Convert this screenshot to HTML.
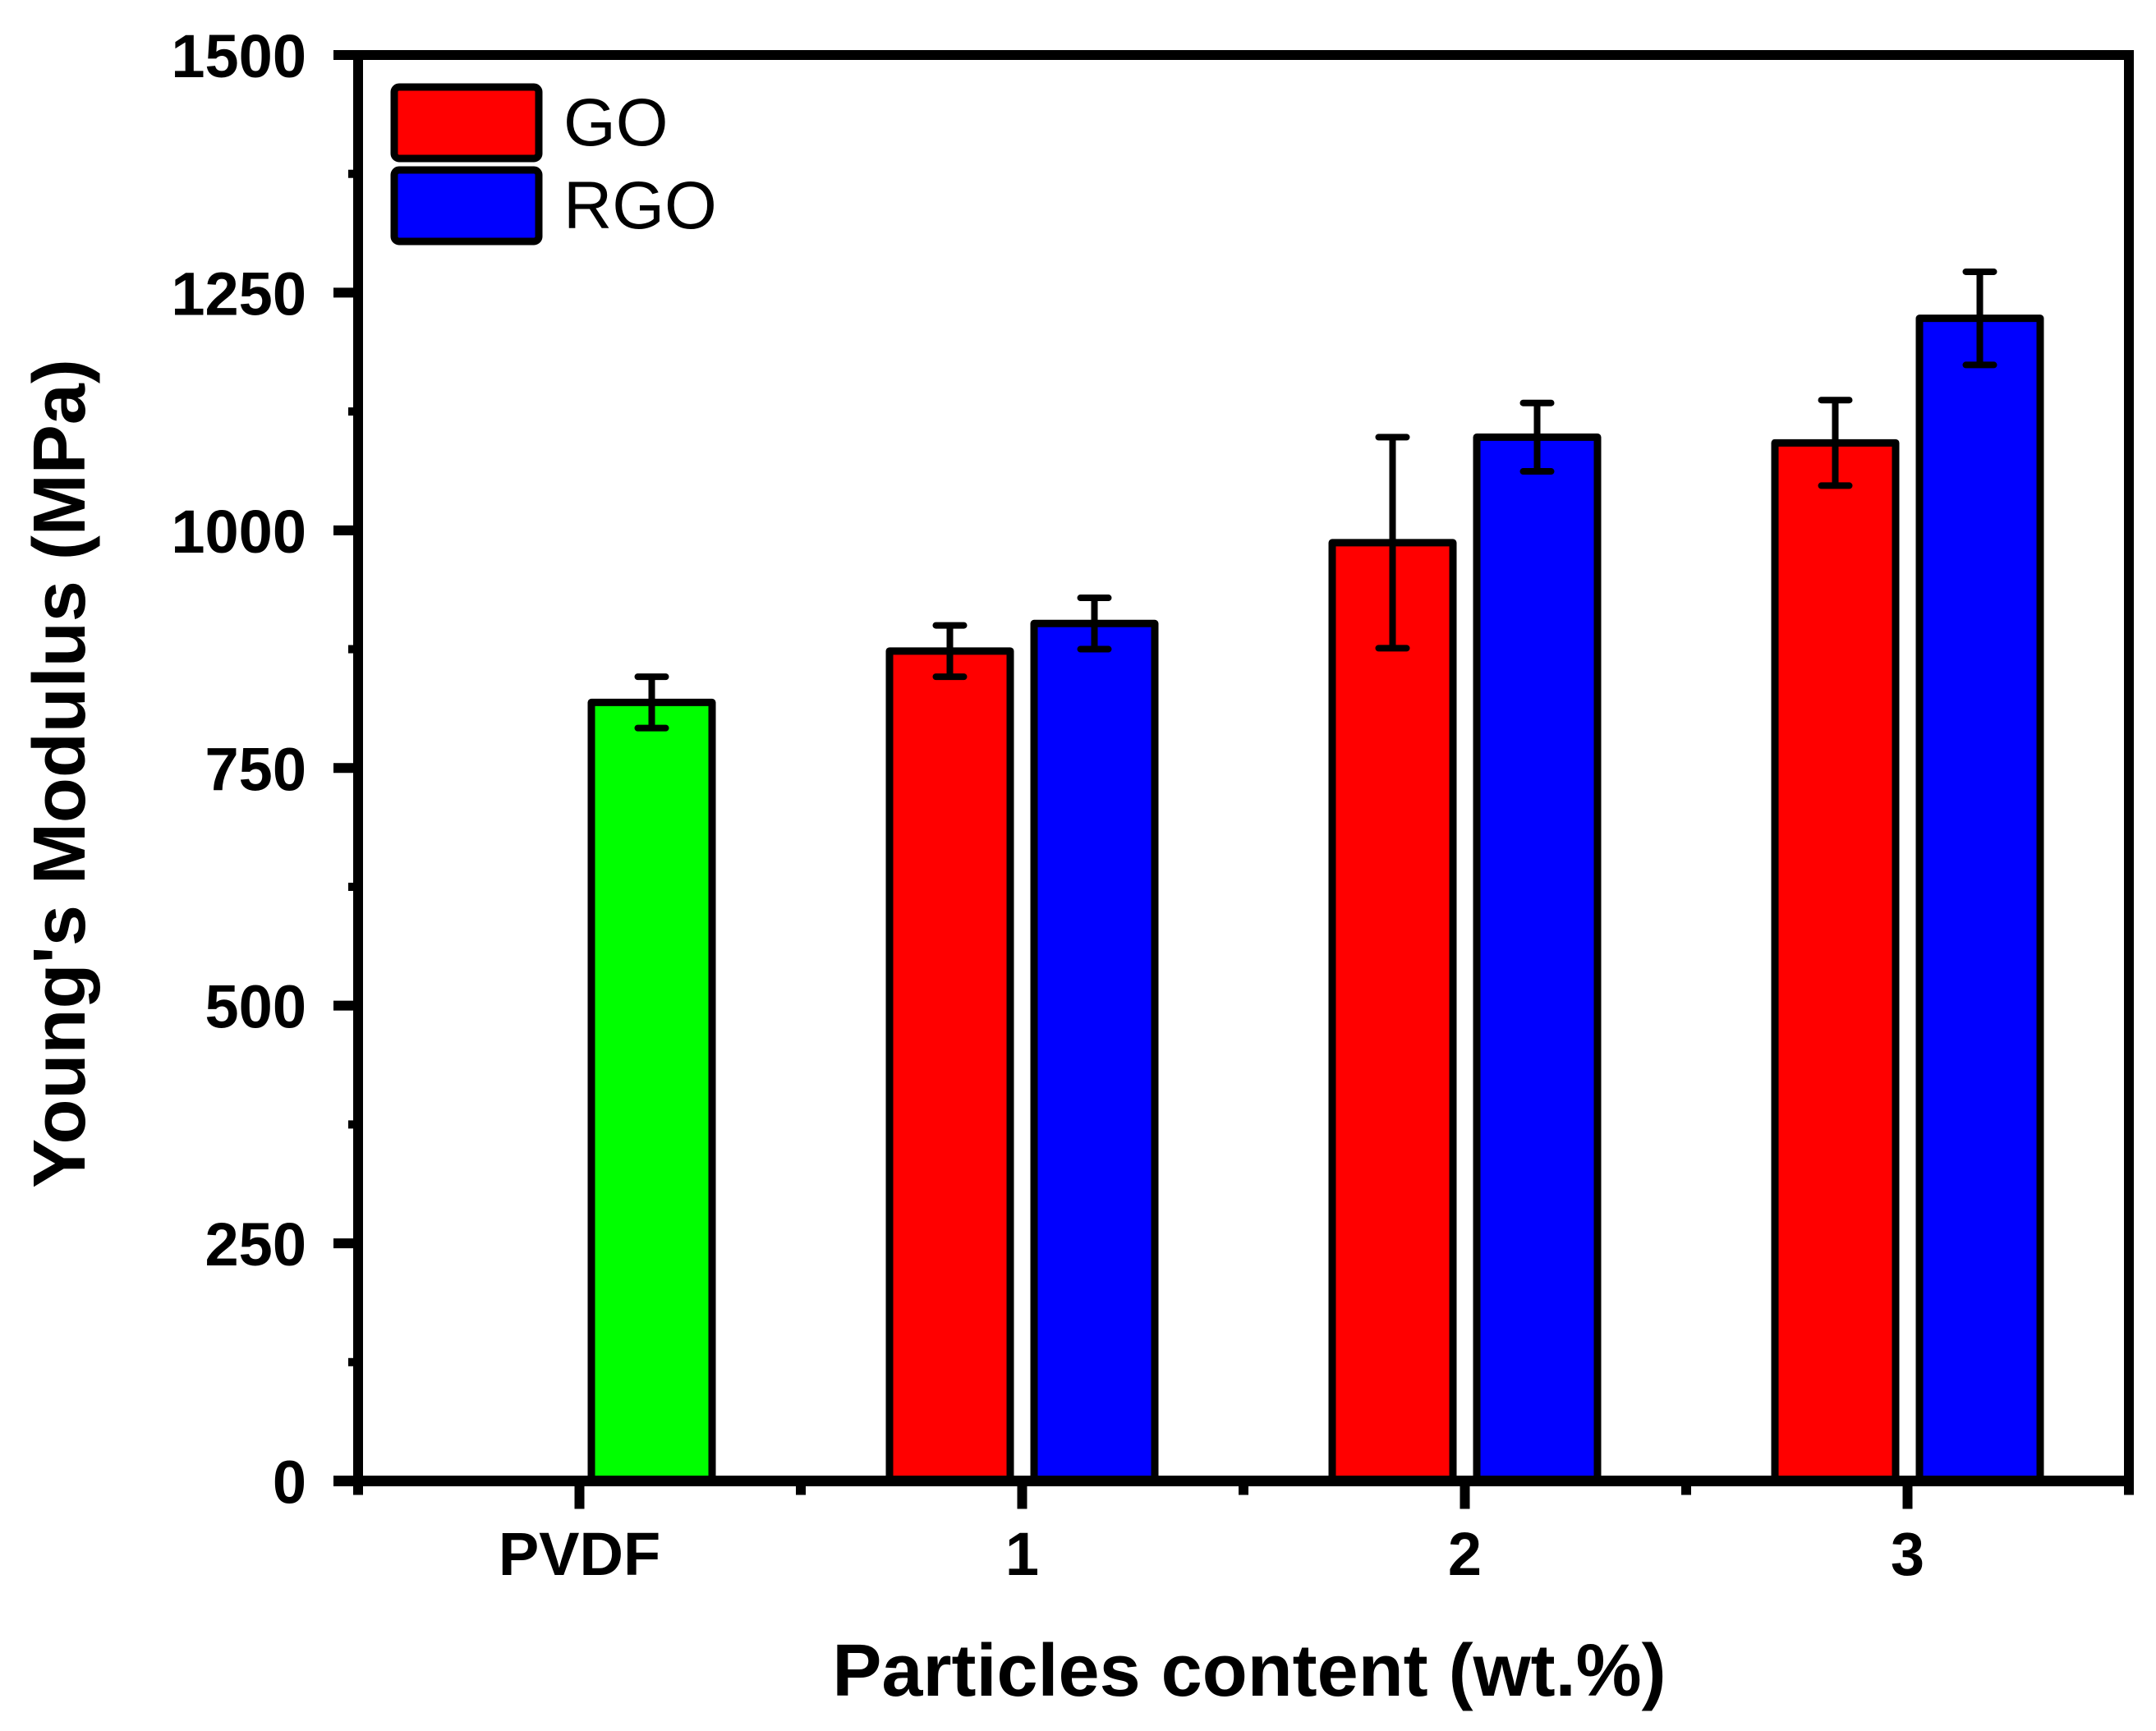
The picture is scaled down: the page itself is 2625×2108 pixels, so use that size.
<!DOCTYPE html>
<html><head><meta charset="utf-8"><style>
html,body{margin:0;padding:0;background:#fff;}
svg{display:block;}
text{font-family:"Liberation Sans",Arial,sans-serif;}
</style></head>
<body>
<svg id="chart" width="2625" height="2108" viewBox="0 0 2625 2108" xmlns="http://www.w3.org/2000/svg">
<g id="bars"></g>
<g id="axes"></g>
<g id="legend">
  <rect x="480" y="106" width="176" height="87" rx="6" fill="#ff0000" stroke="#000" stroke-width="9"/>
  <text x="686" y="177" font-size="82">GO</text>
  <rect x="480" y="207" width="176" height="87" rx="6" fill="#0000ff" stroke="#000" stroke-width="9"/>
  <text x="686" y="278" font-size="82">RGO</text>
</g>
<text x="1521" y="2065" font-size="90" font-weight="bold" text-anchor="middle">Particles content (wt.%)</text>
<text transform="translate(103,942) rotate(-90)" x="0" y="0" font-size="90" font-weight="bold" text-anchor="middle">Young's Modulus (MPa)</text>
</svg>
<script>
const categories = ["PVDF", "1", "2", "3"];
const goValues = [null, 873, 987, 1092];
const goErrors = [null, 27, 111, 45];
const rgoValues = [819, 902, 1098, 1223];
const rgoErrors = [27, 27, 36, 49];
const pvdfIsGreen = [true, false, false, false];
const yTicks = [0, 250, 500, 750, 1000, 1250, 1500];

const NS = "http://www.w3.org/2000/svg";
const X0 = 436, X1 = 2592, Y0 = 1803.5, Y1 = 67;
const yMin = 0, yMax = 1500;
function yScale(v){ return Y0 - (v - yMin) / (yMax - yMin) * (Y0 - Y1); }
const step = (X1 - X0) / categories.length;
function xScale(i){ return X0 + step * (i + 0.5); }
const barW = 147, off = 88;

function mk(tag, attrs, parent){
  const el = document.createElementNS(NS, tag);
  for (const k in attrs) el.setAttribute(k, attrs[k]);
  parent.appendChild(el);
  return el;
}
const bars = document.getElementById("bars");
const axes = document.getElementById("axes");

function drawBar(cx, v, err, fill, name){
  const top = yScale(v);
  const r = mk("rect", {x: cx - barW/2, y: top, width: barW, height: Y0 - top, fill: fill, stroke: "#000", "stroke-width": 9, "stroke-linejoin": "round"}, bars);
  
  
  const yh = yScale(v + err), yl = yScale(v - err);
  const e = mk("path", {d: `M${cx},${yh}V${yl}M${cx-17},${yh}H${cx+17}M${cx-17},${yl}H${cx+17}`, stroke: "#000", "stroke-width": 8, "stroke-linecap": "round", fill: "none"}, bars);
  
  
}

categories.forEach((c, i) => {
  const cx = xScale(i);
  if (goValues[i] !== null) drawBar(cx - off, goValues[i], goErrors[i], "#ff0000", "bar-go-" + c.toLowerCase());
  if (rgoValues[i] !== null) drawBar(cx + off, rgoValues[i], rgoErrors[i], pvdfIsGreen[i] ? "#00ff00" : "#0000ff", (pvdfIsGreen[i] ? "bar-pvdf" : "bar-rgo-" + c.toLowerCase()));
});

// frame
const frame = mk("rect", {x: X0, y: Y1, width: X1 - X0, height: Y0 - Y1, fill: "none", stroke: "#000", "stroke-width": 12}, axes);


const xl = mk("line", {x1: X0 - 30, y1: Y0, x2: X1 + 6, y2: Y0, stroke: "#000", "stroke-width": 13}, axes);


const yl = mk("line", {x1: X0 - 30, y1: Y1, x2: X1 + 6, y2: Y1, stroke: "#000", "stroke-width": 12}, axes);



// y ticks
yTicks.forEach((t, i) => {
  const y = yScale(t);
  const tk = mk("line", {x1: X0 - 30, y1: y, x2: X0, y2: y, stroke: "#000", "stroke-width": 12}, axes);
  
  
  const lb = mk("text", {x: 373, y: y + 27, "font-size": 74, "font-weight": "bold", "text-anchor": "end"}, axes);
  lb.textContent = t;
  
  
  if (i < yTicks.length - 1) {
    const ym = yScale((t + yTicks[i+1]) / 2);
    const mt = mk("line", {x1: X0 - 12, y1: ym, x2: X0, y2: ym, stroke: "#000", "stroke-width": 10}, axes);
    
    
  }
});

// x ticks
categories.forEach((c, i) => {
  const x = xScale(i);
  const tk = mk("line", {x1: x, y1: Y0, x2: x, y2: Y0 + 34, stroke: "#000", "stroke-width": 12}, axes);
  
  
  const lb = mk("text", {x: x, y: 1918, "font-size": 74, "font-weight": "bold", "text-anchor": "middle"}, axes);
  lb.textContent = c;
  
  
});
for (let i = 0; i <= categories.length; i++) {
  const x = X0 + step * i;
  const mt = mk("line", {x1: x, y1: Y0, x2: x, y2: Y0 + 17, stroke: "#000", "stroke-width": 12}, axes);
  
  
}
</script>
</body></html>
